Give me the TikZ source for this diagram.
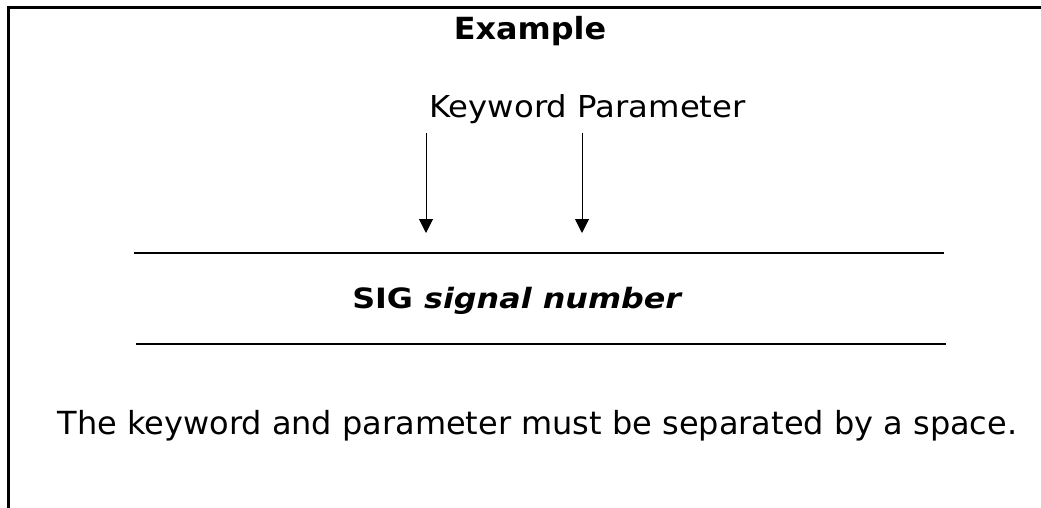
\documentclass[tikz,border=0pt]{standalone}
\usepackage{fontspec}
\setmainfont{DejaVu Sans}
\usetikzlibrary{arrows.meta}
\begin{document}
\begin{tikzpicture}[x=1pt,y=-1pt,
  frame/.style={line width=2.4pt},
  rule/.style={line width=1.6pt},
  pointer/.style={line width=1pt,-{Triangle[width=14pt,length=14pt]}},
  txt/.style={inner sep=0pt,anchor=base}]
\useasboundingbox (0,0) rectangle (1041,508);
\draw[frame] (8.5,508) -- (8.5,7.5) -- (1041,7.5);
\node[txt,font=\fontsize{30.5}{34}\selectfont\bfseries\addfontfeature{FakeStretch=1.045}] (title) at (530,40) {Example};
\node[txt,font=\fontsize{30.2}{34}\selectfont\addfontfeature{FakeStretch=1.07}] (kp) at (587.5,118) {Keyword Parameter};
\coordinate (k0) at (426,133);
\coordinate (k1) at (426,233);
\coordinate (p0) at (582,133);
\coordinate (p1) at (582,233);
\draw[pointer] (k0) -- (k1);
\draw[pointer] (p0) -- (p1);
\coordinate (u0) at (134,253);
\coordinate (u1) at (944,253);
\coordinate (l0) at (136,344);
\coordinate (l1) at (946,344);
\draw[rule] (u0) -- (u1);
\draw[rule] (l0) -- (l1);
\node[txt,font=\fontsize{28}{32}\selectfont\bfseries\addfontfeature{FakeStretch=1.135}] (sig) at (517.5,308) {SIG \textit{\addfontfeature{FakeStretch=1.135}signal number}};
\node[txt,font=\fontsize{31.8}{38}\selectfont\addfontfeature{FakeStretch=1.006}] (note) at (537.5,434) {The keyword and parameter must be separated by a space.};
\end{tikzpicture}
\end{document}
